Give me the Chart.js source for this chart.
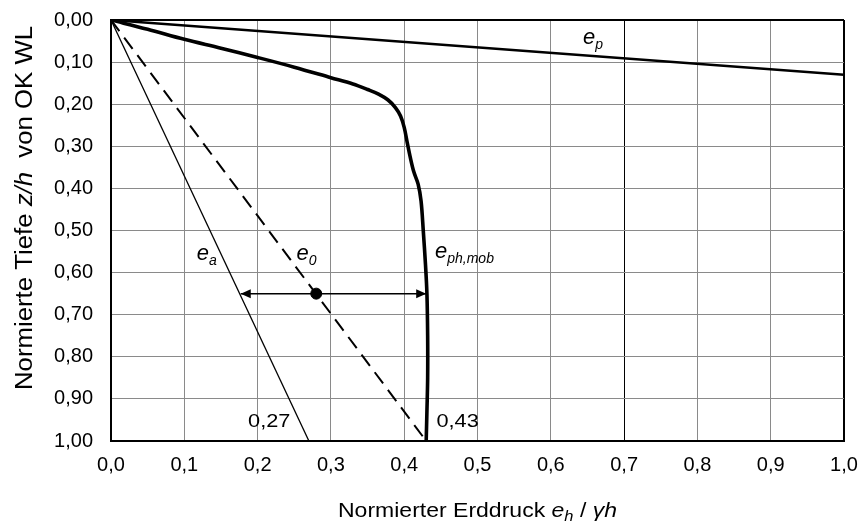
<!DOCTYPE html>
<html>
<head>
<meta charset="utf-8">
<script src="https://cdn.jsdelivr.net/npm/chart.js@4/dist/chart.umd.min.js"></script>
<style>
  html, body { margin:0; padding:0; background:#fff; }
  #wrap { width:861px; height:525px; }
</style>
</head>
<body>
<div id="wrap"><canvas id="c" width="861" height="525"></canvas></div>
<script>
// ─── Data ─────────────────────────────────────────────────────
const xTickLabels = ['0,0','0,1','0,2','0,3','0,4','0,5','0,6','0,7','0,8','0,9','1,0'];
const yTickLabels = ['0,00','0,10','0,20','0,30','0,40','0,50','0,60','0,70','0,80','0,90','1,00'];

// active earth pressure e_a
const eaX = [0, 0.27];
const eaY = [0, 1.00];
// earth pressure at rest e_0
const e0X = [0, 0.43];
const e0Y = [0, 1.00];
// passive earth pressure e_p
const epX = [0, 1.00];
const epY = [0, 0.13];
// mobilised passive pressure e_ph,mob
const ephX = [0, 0.05, 0.10, 0.15, 0.20, 0.25, 0.30, 0.33, 0.35, 0.365, 0.378, 0.388, 0.395, 0.400, 0.404, 0.408, 0.413, 0.419, 0.423, 0.426, 0.429, 0.431, 0.432, 0.432, 0.431, 0.430];
const ephY = [0, 0.022, 0.046, 0.067, 0.089, 0.112, 0.137, 0.152, 0.165, 0.176, 0.190, 0.208, 0.228, 0.255, 0.290, 0.324, 0.360, 0.390, 0.430, 0.500, 0.580, 0.650, 0.750, 0.850, 0.930, 1.000];
// double arrow and marker at z/h = 0.65
const arrowX = [0.177, 0.43];
const arrowY = [0.65, 0.65];
const dotX = [0.28];
const dotY = [0.65];

// curve labels  [main, subscript, x, y]
const curveLabels = [
  ['e', 'a',      0.117, 0.570],
  ['e', '0',      0.253, 0.570],
  ['e', 'ph,mob', 0.442, 0.565],
  ['e', 'p',      0.644, 0.058],
];
// value labels  [text, x, y]
const valueLabels = [
  ['0,27', 0.187, 0.966],
  ['0,43', 0.444, 0.966],
];

const FONT = '"Liberation Sans", Arial, sans-serif';
const pts = (xs, ys) => xs.map((x, i) => ({ x, y: ys[i] }));
const idx = v => Math.round(v * 10);

// ── Annotation plugin ─────────────────────────────────────────
const annot = {
  id: 'annot',
  afterDatasetsDraw(chart) {
    const { ctx, scales: { x, y } } = chart;
    ctx.save();
    ctx.fillStyle = '#000';
    ctx.textBaseline = 'alphabetic';
    ctx.textAlign = 'left';

    // arrow heads
    const ay = y.getPixelForValue(arrowY[0]);
    const head = (tip, dir) => {
      ctx.beginPath();
      ctx.moveTo(tip, ay);
      ctx.lineTo(tip - dir * 10, ay - 4.5);
      ctx.lineTo(tip - dir * 10, ay + 4.5);
      ctx.closePath();
      ctx.fill();
    };
    head(x.getPixelForValue(arrowX[0]), -1);
    head(x.getPixelForValue(arrowX[1]), 1);

    curveLabels.forEach(([m, s, vx, vy]) => {
      const px = x.getPixelForValue(vx), py = y.getPixelForValue(vy);
      ctx.font = 'italic 22px ' + FONT;
      ctx.fillText(m, px, py);
      const w = ctx.measureText(m).width;
      ctx.font = 'italic 14px ' + FONT;
      ctx.fillText(s, px + w, py + 5);
    });

    // stretched text runs (the reference glyphs are wider than plain Arial)
    const runs = (parts, sx, sy, sc) => {
      let cx = 0;
      ctx.save();
      ctx.translate(sx, sy);
      ctx.scale(sc, 1);
      parts.forEach(([t, style, dy]) => {
        ctx.font = style + FONT;
        ctx.fillText(t, cx, dy || 0);
        cx += ctx.measureText(t).width;
      });
      ctx.restore();
      return cx * sc;
    };
    const width = (parts, sc) => {
      let w = 0;
      parts.forEach(([t, style]) => { ctx.font = style + FONT; w += ctx.measureText(t).width; });
      return w * sc;
    };

    valueLabels.forEach(([t, vx, vy]) => {
      runs([[t, '18.6px ']], x.getPixelForValue(vx), y.getPixelForValue(vy), 1.17);
    });

    const xParts = [
      ['Normierter Erddruck ', '19.5px '],
      ['e', 'italic 19.5px '],
      ['h', 'italic 14px ', 4],
      [' / ', '19.5px '],
      ['γ', 'italic 19.5px '],
      ['h', 'italic 19.5px '],
    ];
    const xs = 1.18;
    const cxm = (chart.chartArea.left + chart.chartArea.right) / 2;
    runs(xParts, cxm - width(xParts, xs) / 2, 517, xs);

    const yParts = [
      ['Normierte Tiefe ', '23px '],
      ['z/h', 'italic 23px '],
      ['  von OK WL', '23px '],
    ];
    const ys = 1.12;
    ctx.translate(32, 208);
    ctx.rotate(-Math.PI / 2);
    runs(yParts, -width(yParts, ys) / 2, 0, ys);
    ctx.restore();
  }
};

// ── Chart ─────────────────────────────────────────────────────
const gridColor = (edgeVal, darkVal) => c => {
  const v = Math.round(c.tick.value * 100) / 100;
  return (v === edgeVal || v === darkVal) ? '#000' : '#8a8a8a';
};
const gridWidth = edgeVal => c => (Math.round(c.tick.value * 100) / 100 === edgeVal ? 2 : 1);

new Chart(document.getElementById('c'), {
  type: 'scatter',
  data: {
    datasets: [
      { data: pts(eaX, eaY), borderColor: '#000', borderWidth: 1.3, showLine: true, pointRadius: 0 },
      { data: pts(e0X, e0Y), borderColor: '#000', borderWidth: 2, borderDash: [14, 8], showLine: true, pointRadius: 0 },
      { data: pts(epX, epY), borderColor: '#000', borderWidth: 2.5, showLine: true, pointRadius: 0 },
      { data: pts(arrowX, arrowY), borderColor: '#000', borderWidth: 1.5, showLine: true, pointRadius: 0 },
      { data: pts(ephX, ephY), borderColor: '#000', borderWidth: 3.6, showLine: true, pointRadius: 0, tension: 0.35 },
      { data: pts(dotX, dotY), backgroundColor: '#000', borderColor: '#000', pointRadius: 5.5 },
    ],
  },
  options: {
    responsive: false,
    animation: false,
    layout: { padding: { left: 0, right: 17, top: 20, bottom: 0 } },
    plugins: { legend: { display: false }, tooltip: { enabled: false } },
    scales: {
      x: {
        type: 'linear', min: 0, max: 1,
        afterFit: s => { s.height = 84; s.paddingLeft = 0; s.paddingRight = 0; },
        ticks: {
          stepSize: 0.1, padding: 12, color: '#000',
          font: { family: FONT, size: 20 },
          callback: v => xTickLabels[idx(v)],
        },
        grid: { drawTicks: false, color: gridColor(1, 0.7), lineWidth: gridWidth(1) },
        border: { color: '#000', width: 2 },
      },
      y: {
        type: 'linear', min: 0, max: 1, reverse: true,
        afterFit: s => { s.width = 111; s.paddingTop = 0; s.paddingBottom = 0; },
        ticks: {
          stepSize: 0.1, padding: 18, color: '#000',
          font: { family: FONT, size: 20 },
          callback: v => yTickLabels[idx(v)],
        },
        grid: { drawTicks: false, color: gridColor(0, -1), lineWidth: gridWidth(0) },
        border: { color: '#000', width: 2 },
      },
    },
  },
  plugins: [annot],
});
</script>
</body>
</html>
